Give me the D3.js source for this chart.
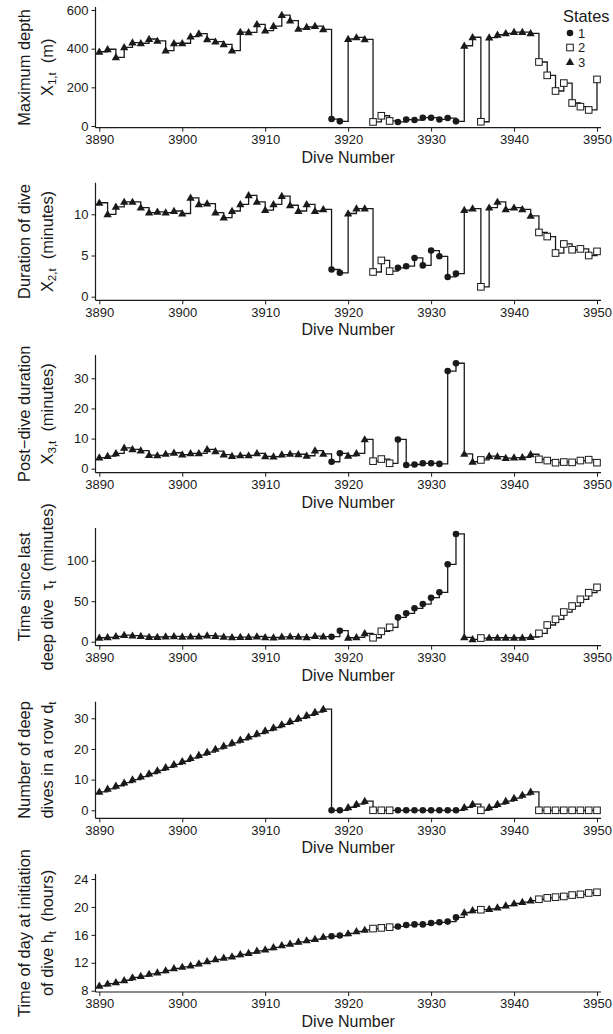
<!DOCTYPE html>
<html>
<head>
<meta charset="utf-8">
<script src="https://cdn.jsdelivr.net/npm/d3@7"></script>
<style>
  body { margin: 0; background: #fff; }
  svg { display: block; font-family: "Liberation Sans", Arial, sans-serif; }
</style>
</head>
<body>
<svg width="613" height="1034"></svg>
<script>
// Dive numbers 3890..3950
const dives = d3.range(3890, 3951);

// Decoded behavioural state for each dive
const states = [
  3,3,3,3,3,3,3,3,3,3, 3,3,3,3,3,3,3,3,3,3, 3,3,3,3,3,3,3,3,
  1,1, 3,3,3, 2,2,2, 1,1,1,1,1,1,1,1, 3,3, 2, 3,3,3,3,3,3, 2,2,2,2,2,2,2,2
];

// Maximum depth (m)
const maxDepth = [
  384,397,355,407,431,428,450,440,390,428, 428,462,478,448,436,422,390,486,484,526,
  493,517,574,545,502,512,517,500, 36,24, 450,458,448, 21,53,26,
  21,33,31,43,43,34,41,24, 415,459, 22, 457,472,479,486,486,479,
  331,262,181,222,119,100,83,241
];

// Duration of dive (minutes)
const duration = [
  11.4,10.0,10.9,11.5,11.5,10.8,10.2,10.3,10.2,10.4, 10.1,12.0,11.2,11.3,10.2,9.6,10.4,11.2,12.3,11.5,
  10.5,11.2,12.2,11.1,10.4,11.2,10.4,10.6, 3.3,2.9, 10.1,10.7,10.7, 3.0,4.4,3.1,
  3.5,3.7,4.7,3.8,5.6,4.9,2.4,2.8, 10.5,10.7, 1.2, 10.8,11.5,10.6,10.8,10.6,9.8,
  7.8,7.3,5.3,6.4,5.7,5.8,5.0,5.5
];

// Post-dive duration (minutes)
const postDive = [
  3.7,4.2,5.1,6.9,6.4,6.0,4.5,4.4,4.9,5.3, 4.7,5.1,5.1,6.4,5.8,4.7,4.2,4.4,4.4,5.1,
  4.1,4.0,4.7,4.9,4.8,4.3,6.0,4.9, 2.3,5.1, 4.3,5.1,9.7, 2.5,3.2,1.8,
  9.7,1.2,1.4,1.8,1.8,1.6,32.4,35.0, 4.9,2.3, 2.9, 4.2,4.0,3.5,3.7,3.8,4.8,
  3.1,2.7,2.0,2.2,2.1,2.7,3.0,2.0
];

// Time since last deep dive (minutes)
const sinceDeep = [
  4.9,5.3,6.6,8.2,7.4,7.0,5.8,5.8,6.2,6.6, 6.0,6.4,6.4,7.6,7.0,6.0,5.4,5.6,5.6,6.4,
  5.4,5.2,6.0,6.2,6.0,5.4,7.0,6.2, 6.2,13.6, 4.9,5.3,10.3, 4.9,12.8,17.7,
  30.0,35.0,41.2,46.5,54.3,60.9,95.5,133, 5.3,2.9, 4.5, 4.9,4.9,4.9,4.9,4.9,5.8,
  10.3,20.6,27.6,36.6,44.0,52.3,60.5,67.1
];

// Number of deep dives in a row
const deepInRow = [
  6,7,8,9,10,11,12,13,14,15, 16,17,18,19,20,21,22,23,24,25,
  26,27,28,29,30,31,32,33, 0,0, 1,2,3, 0,0,0,
  0,0,0,0,0,0,0,0, 1,2, 0, 1,2,3,4,5,6,
  0,0,0,0,0,0,0,0
];

// Time of day at initiation of dive (hours)
const hourOfDay = [
  8.7,9.0,9.2,9.5,9.9,10.1,10.4,10.6,10.9,11.2, 11.4,11.6,11.9,12.2,12.5,12.7,12.9,13.2,13.4,13.7,
  13.9,14.2,14.5,14.7,15.0,15.2,15.4,15.7, 15.8,15.9, 16.2,16.5,16.7, 16.9,17.0,17.1,
  17.2,17.4,17.5,17.5,17.7,17.8,17.9,18.5, 19.2,19.5, 19.6, 19.7,19.9,20.2,20.5,20.7,20.9,
  21.1,21.3,21.4,21.5,21.7,21.8,22.0,22.1
];

const xTicks = [3890, 3900, 3910, 3920, 3930, 3940, 3950];
const stateLabels = ["1", "2", "3"];

// Axis labels, second line split into plain / subscript pieces
const panels = [
  { values: maxDepth, ticks: [0, 200, 400, 600], dom: [0, 600], rng: [126, 10], top: 7, base: 127.7,
    line1: "Maximum depth", line2: [["X"], ["1,t", 1], ["  (m)"]] },
  { values: duration, ticks: [0, 5, 10], dom: [0, 10], rng: [296.7, 214.3], top: 182.7, base: 300.3,
    line1: "Duration of dive", line2: [["X"], ["2,t", 1], ["  (minutes)"]] },
  { values: postDive, ticks: [0, 10, 20, 30], dom: [0, 30], rng: [468.7, 378.3], top: 355, base: 472.7,
    line1: "Post\u2212dive duration", line2: [["X"], ["3,t", 1], ["  (minutes)"]] },
  { values: sinceDeep, ticks: [0, 50, 100], dom: [0, 100], rng: [641.7, 560.7], top: 528, base: 645.7,
    line1: "Time since last", line2: [["deep dive  \u03c4"], ["t", 1], ["  (minutes)"]] },
  { values: deepInRow, ticks: [0, 10, 20, 30], dom: [0, 30], rng: [810.3, 718.3], top: 701.7, base: 818.3,
    line1: "Number of deep", line2: [["dives in a row d"], ["t", 1]] },
  { values: hourOfDay, ticks: [8, 12, 16, 20, 24], dom: [8, 24], rng: [990.7, 879], top: 874, base: 992,
    line1: "Time of day at initiation", line2: [["of dive h"], ["t", 1], ["  (hours)"]] }
];

const svg = d3.select("svg");
const x = d3.scaleLinear().domain([3890, 3950]).range([99.3, 597]);
const axisLeftX = 95.5;
const axisRightX = 601;
const ink = "#1a1a1a";

const circle = d3.symbol(d3.symbolCircle, 34);
const triangle = d3.symbol(d3.symbolTriangle, 30);

function drawMarker(g, state, px, py) {
  if (state === 1) {
    g.append("path").attr("d", circle()).attr("transform", `translate(${px},${py})`).attr("fill", ink);
  } else if (state === 2) {
    g.append("rect").attr("x", px - 3.3).attr("y", py - 3.3).attr("width", 6.6).attr("height", 6.6)
      .attr("fill", "#fff").attr("stroke", ink).attr("stroke-width", 1);
  } else {
    g.append("path").attr("d", triangle()).attr("transform", `translate(${px},${py + 0.5})`).attr("fill", ink);
  }
}

panels.forEach(p => {
  const y = d3.scaleLinear().domain(p.dom).range(p.rng);
  const g = svg.append("g");

  // L-shaped frame
  g.append("line").attr("x1", axisLeftX).attr("x2", axisLeftX).attr("y1", p.top).attr("y2", p.base)
    .attr("stroke", ink).attr("stroke-width", 1.2);
  g.append("line").attr("x1", axisLeftX).attr("x2", axisRightX).attr("y1", p.base).attr("y2", p.base)
    .attr("stroke", ink).attr("stroke-width", 1.2);

  // y axis
  const ya = g.append("g").attr("transform", `translate(${axisLeftX},0)`)
    .call(d3.axisLeft(y).tickValues(p.ticks).tickSize(4).tickPadding(3).tickSizeOuter(0));
  ya.select(".domain").remove();
  ya.selectAll("line").attr("stroke", ink);
  ya.selectAll("text").attr("font-size", 13).attr("fill", ink).attr("font-family", "Liberation Sans, Arial, sans-serif");

  // x axis
  const xa = g.append("g").attr("transform", `translate(0,${p.base})`)
    .call(d3.axisBottom(x).tickValues(xTicks).tickFormat(d3.format("d")).tickSize(4).tickPadding(3).tickSizeOuter(0));
  xa.select(".domain").remove();
  xa.selectAll("line").attr("stroke", ink);
  xa.selectAll("text").attr("font-size", 13).attr("fill", ink).attr("font-family", "Liberation Sans, Arial, sans-serif");

  g.append("text").attr("x", (axisLeftX + axisRightX) / 2).attr("y", p.base + 35)
    .attr("text-anchor", "middle").attr("font-size", 16).attr("fill", ink).text("Dive Number");

  // rotated y labels
  const cy = (p.top + p.base) / 2;
  g.append("text").attr("transform", `translate(30,${cy}) rotate(-90)`)
    .attr("text-anchor", "middle").attr("font-size", 16.4).attr("fill", ink).text(p.line1);
  const t2 = g.append("text").attr("transform", `translate(52.5,${cy}) rotate(-90)`)
    .attr("text-anchor", "middle").attr("font-size", 16.4).attr("fill", ink).style("white-space", "pre");
  let shifted = false;
  p.line2.forEach(([s, sub]) => {
    const ts = t2.append("tspan").text(s);
    if (sub) { ts.attr("font-size", 11.5).attr("dy", 3.5); shifted = true; }
    else if (shifted) { ts.attr("dy", -3.5); shifted = false; }
  });

  // step line
  const line = d3.line().x((d, i) => x(dives[i])).y(d => y(d)).curve(d3.curveStepAfter);
  g.append("path").datum(p.values).attr("d", line).attr("fill", "none")
    .attr("stroke", ink).attr("stroke-width", 1.3);

  // markers
  const mg = g.append("g");
  p.values.forEach((v, i) => drawMarker(mg, states[i], x(dives[i]), y(v)));
});

// legend
const lg = svg.append("g");
lg.append("text").attr("x", 563).attr("y", 22).attr("font-size", 16.4).attr("fill", ink).text("States");
stateLabels.forEach((s, i) => {
  const ly = 33 + i * 14.5;
  drawMarker(lg, i + 1, 570, ly);
  lg.append("text").attr("x", 578).attr("y", ly + 4.5).attr("font-size", 13).attr("fill", ink).text(s);
});
</script>
</body>
</html>
